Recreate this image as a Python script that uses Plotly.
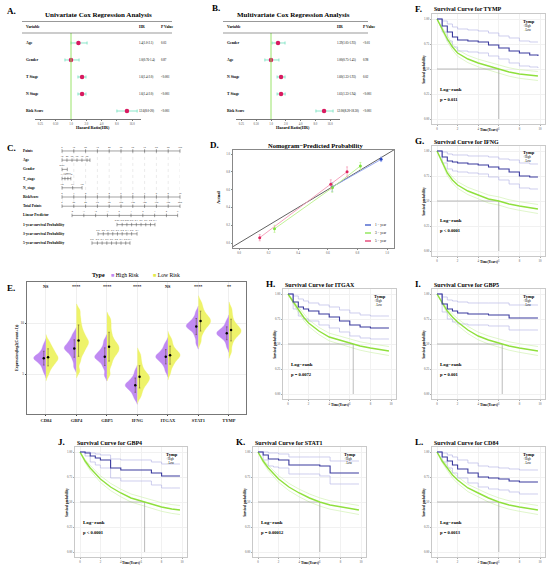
import numpy as np
import plotly.graph_objs as go

FONT = "Liberation Serif"
W, H = 550, 572

# ---- A / B forest plots
UNI_VARS = ["Age", "Gender", "T Stage", "N Stage", "Risk Score"]
UNI_HR = [1.4, 1.0, 1.65, 1.65, 12.6]
UNI_LO = [1.0, 0.76, 1.37, 1.37, 8.0]
UNI_HI = [2.07, 1.44, 1.97, 1.97, 20.0]
UNI_HR_TEXT = ["1.4(1.0-2.1)", "1.0(0.76-1.4)", "1.6(1.4-2.0)", "1.6(1.4-2.0)", "12.6(8.0-20)"]
UNI_P = ["0.03", "0.87", "<0.001", "<0.001", "<0.001"]

MULTI_VARS = ["Gender", "Age", "N Stage", "T Stage", "Risk Score"]
MULTI_HR = [1.39, 1.0, 1.6, 1.6, 12.0]
MULTI_LO = [1.05, 0.75, 1.33, 1.33, 8.2]
MULTI_HI = [1.93, 1.45, 1.93, 1.94, 18.3]
MULTI_HR_TEXT = ["1.39(1.05-1.93)", "1.00(0.75-1.45)", "1.60(1.33-1.93)", "1.61(1.33-1.94)", "12.00(8.20-18.30)"]
MULTI_P = ["<0.01", "0.98", "0.02", "<0.001", "<0.001"]

HR_TICKS = [0.25, 0.5, 1, 2, 4, 8, 16]
HR_TICK_TEXT = ["0.25", "0.50", "1.0", "2.0", "4.0", "8.0", "16.0"]

# ---- C nomogram (positions on the 0-100 points scale)
NOMO_ROWS = ["Points", "Age", "Gender", "T_stage", "N_stage", "RiskScore", "Total Points",
             "Linear Predictor", "1-year survival Probability", "3-year survival Probability",
             "5-year survival Probability"]
POINTS_POS = [0, 10, 20, 30, 40, 50, 60, 70, 80, 90, 100]
POINTS_LAB = ["0", "10", "20", "30", "40", "50", "60", "70", "80", "90", "100"]
AGE_POS = [0, 4.2, 8.5, 12.7, 16.9, 21.2, 23.7]
AGE_LAB = ["30", "40", "50", "60", "70", "80", ""]
GENDER_POS = [0, 4.5]
GENDER_LAB = ["Male", "Female"]
TSTAGE_POS = [0, 2.5, 5, 7.5]
TSTAGE_LAB = ["T1", "T2", "T3", "T4"]
NSTAGE_POS = [0, 9, 17]
NSTAGE_LAB = ["N0", "N1", "N2"]
RISK_POS = [0, 10, 20, 30, 40, 50, 60, 70, 80, 90, 100]
RISK_LAB = ["0", "1", "2", "3", "4", "5", "6", "7", "8", "9", "10"]
TOTAL_POS = [0, 10, 20, 30, 40, 50, 60, 70, 80, 90, 100]
TOTAL_LAB = ["0", "20", "40", "60", "80", "100", "120", "140", "160", "180", "200"]
LP_POS = [8.5, 18.5, 28.5, 38.5, 48.5, 58.5, 68.5, 78.5, 88.5, 98]
LP_LAB = ["-4", "-3", "-2", "-1", "0", "1", "2", "3", "4", "5"]
SURV1_POS = [46.6, 51, 55, 59, 63, 67, 71, 75, 78.8]
SURV1_LAB = ["0.95", "0.9", "0.85", "0.8", "0.7", "0.6", "0.5", "0.4", "0.3"]
SURV3_POS = [30.5, 35, 39, 43, 47, 51, 55, 59, 63.6]
SURV3_LAB = ["0.9", "0.8", "0.7", "0.6", "0.5", "0.4", "0.3", "0.2", "0.1"]
SURV5_POS = [25.4, 30, 34, 38, 42, 46, 50, 54, 57.6]
SURV5_LAB = ["0.9", "0.8", "0.7", "0.6", "0.5", "0.4", "0.3", "0.2", "0.1"]

# ---- D calibration
CAL_1Y_X = [0.63, 0.96]
CAL_1Y_Y = [0.63, 0.94]
CAL_1Y_ERR = [0.05, 0.025]
CAL_3Y_X = [0.24, 0.63, 0.82]
CAL_3Y_Y = [0.16, 0.62, 0.865]
CAL_3Y_ERR = [0.04, 0.05, 0.04]
CAL_5Y_X = [0.14, 0.62, 0.73]
CAL_5Y_Y = [0.06, 0.66, 0.80]
CAL_5Y_ERR = [0.035, 0.05, 0.055]

# ---- E split violins (representative expression values)
GENES = ["CD84", "GBP4", "GBP5", "IFNG", "ITGAX", "STAT1", "TYMP"]
SIG = ["NS", "****", "****", "****", "NS", "****", "**"]
CD84_HIGH = [5.2, 5.6, 5.9, 6.1, 6.3, 6.4, 6.5, 6.6, 6.6, 6.7, 6.8, 7.0, 7.2, 7.5, 7.9]
CD84_LOW = [5.0, 5.5, 5.8, 6.0, 6.2, 6.4, 6.5, 6.6, 6.7, 6.9, 7.1, 7.3, 7.5, 7.8, 8.2]
GBP4_HIGH = [5.7, 6.3, 6.7, 7.0, 7.2, 7.4, 7.5, 7.6, 7.7, 7.9, 8.1, 8.3, 8.6, 9.0]
GBP4_LOW = [5.3, 6.2, 6.8, 7.2, 7.5, 7.8, 8.0, 8.2, 8.4, 8.7, 9.0, 9.4, 9.9, 10.5, 11.2]
GBP5_HIGH = [4.9, 5.6, 6.0, 6.3, 6.5, 6.6, 6.7, 6.8, 7.0, 7.2, 7.4, 7.8, 8.3]
GBP5_LOW = [5.0, 5.8, 6.3, 6.7, 7.0, 7.2, 7.4, 7.6, 7.8, 8.0, 8.3, 8.7, 9.2, 9.8, 10.4]
IFNG_HIGH = [2.6, 3.0, 3.3, 3.5, 3.7, 3.8, 3.9, 4.0, 4.1, 4.3, 4.5, 4.8, 5.3]
IFNG_LOW = [2.8, 3.3, 3.7, 4.0, 4.2, 4.4, 4.6, 4.7, 4.9, 5.1, 5.4, 5.8, 6.3, 6.9]
ITGAX_HIGH = [5.3, 5.8, 6.1, 6.3, 6.5, 6.6, 6.7, 6.8, 6.9, 7.1, 7.3, 7.6, 8.0]
ITGAX_LOW = [5.1, 5.7, 6.0, 6.3, 6.5, 6.7, 6.8, 6.9, 7.0, 7.2, 7.4, 7.7, 8.1, 8.5]
STAT1_HIGH = [8.0, 8.6, 9.0, 9.3, 9.5, 9.6, 9.7, 9.8, 9.9, 10.1, 10.3, 10.6, 11.1]
STAT1_LOW = [8.2, 8.9, 9.3, 9.6, 9.8, 10.0, 10.1, 10.3, 10.4, 10.6, 10.8, 11.1, 11.5, 12.0]
TYMP_HIGH = [7.7, 8.2, 8.5, 8.7, 8.8, 8.9, 9.0, 9.1, 9.2, 9.3, 9.5, 9.8, 10.2]
TYMP_LOW = [7.2, 7.9, 8.4, 8.7, 8.9, 9.1, 9.2, 9.3, 9.5, 9.7, 9.9, 10.3, 10.8, 11.4]
EXPR_HIGH = [CD84_HIGH, GBP4_HIGH, GBP5_HIGH, IFNG_HIGH, ITGAX_HIGH, STAT1_HIGH, TYMP_HIGH]
EXPR_LOW = [CD84_LOW, GBP4_LOW, GBP5_LOW, IFNG_LOW, ITGAX_LOW, STAT1_LOW, TYMP_LOW]

# ---- F-L Kaplan-Meier curves
TIME = [0, 0.5, 1, 1.5, 2, 3, 4, 5, 6, 7, 8, 9, 9.8]
LOW_BAND = [0, 0.015, 0.025, 0.03, 0.033, 0.036, 0.038, 0.04, 0.041, 0.042, 0.043, 0.044, 0.045]

TYMP_S_HIGH = [1.0, 0.93, 0.87, 0.82, 0.79, 0.78, 0.77, 0.74, 0.71, 0.68, 0.66, 0.64, 0.63]
TYMP_S_HIGH_UP = [1.0, 0.98, 0.95, 0.92, 0.90, 0.89, 0.88, 0.86, 0.83, 0.81, 0.78, 0.77, 0.77]
TYMP_S_HIGH_LO = [1.0, 0.87, 0.78, 0.72, 0.68, 0.67, 0.66, 0.63, 0.60, 0.56, 0.53, 0.52, 0.51]
TYMP_S_LOW = [1.0, 0.90, 0.80, 0.72, 0.66, 0.60, 0.56, 0.53, 0.50, 0.47, 0.45, 0.44, 0.43]

IFNG_S_HIGH = [1.0, 0.94, 0.90, 0.89, 0.88, 0.87, 0.86, 0.84, 0.82, 0.79, 0.75, 0.74, 0.74]
IFNG_S_HIGH_UP = [1.0, 0.99, 0.97, 0.96, 0.96, 0.95, 0.95, 0.94, 0.92, 0.91, 0.88, 0.87, 0.87]
IFNG_S_HIGH_LO = [1.0, 0.88, 0.82, 0.80, 0.79, 0.78, 0.77, 0.74, 0.71, 0.67, 0.63, 0.62, 0.62]
IFNG_S_LOW = [1.0, 0.89, 0.78, 0.71, 0.66, 0.60, 0.56, 0.52, 0.50, 0.47, 0.45, 0.43, 0.42]

ITGAX_S_HIGH = [1.0, 0.92, 0.87, 0.85, 0.83, 0.80, 0.77, 0.73, 0.69, 0.67, 0.66, 0.66, 0.66]
ITGAX_S_HIGH_UP = [1.0, 0.98, 0.95, 0.93, 0.91, 0.89, 0.87, 0.84, 0.81, 0.79, 0.78, 0.78, 0.78]
ITGAX_S_HIGH_LO = [1.0, 0.85, 0.78, 0.75, 0.73, 0.69, 0.66, 0.62, 0.58, 0.56, 0.55, 0.55, 0.55]
ITGAX_S_LOW = [1.0, 0.92, 0.84, 0.77, 0.71, 0.63, 0.57, 0.54, 0.51, 0.48, 0.46, 0.44, 0.43]

GBP5_S_HIGH = [1.0, 0.90, 0.85, 0.83, 0.81, 0.80, 0.80, 0.79, 0.79, 0.76, 0.76, 0.76, 0.76]
GBP5_S_HIGH_UP = [1.0, 0.97, 0.94, 0.93, 0.92, 0.91, 0.91, 0.91, 0.91, 0.89, 0.89, 0.89, 0.89]
GBP5_S_HIGH_LO = [1.0, 0.82, 0.75, 0.72, 0.70, 0.69, 0.69, 0.68, 0.68, 0.64, 0.64, 0.64, 0.64]
GBP5_S_LOW = [1.0, 0.91, 0.83, 0.77, 0.72, 0.64, 0.58, 0.54, 0.51, 0.48, 0.46, 0.44, 0.43]

GBP4_S_HIGH = [1.0, 0.99, 0.96, 0.94, 0.92, 0.84, 0.82, 0.82, 0.82, 0.79, 0.76, 0.76, 0.76]
GBP4_S_HIGH_UP = [1.0, 1.0, 0.99, 0.98, 0.97, 0.93, 0.92, 0.92, 0.92, 0.90, 0.88, 0.88, 0.88]
GBP4_S_HIGH_LO = [1.0, 0.96, 0.90, 0.87, 0.84, 0.74, 0.71, 0.71, 0.71, 0.67, 0.64, 0.64, 0.64]
GBP4_S_LOW = [1.0, 0.91, 0.84, 0.78, 0.73, 0.65, 0.59, 0.54, 0.51, 0.48, 0.45, 0.43, 0.42]

STAT1_S_HIGH = [1.0, 0.97, 0.93, 0.93, 0.92, 0.87, 0.87, 0.87, 0.86, 0.79, 0.79, 0.79, 0.79]
STAT1_S_HIGH_UP = [1.0, 1.0, 0.99, 0.99, 0.98, 0.95, 0.95, 0.95, 0.95, 0.91, 0.91, 0.91, 0.91]
STAT1_S_HIGH_LO = [1.0, 0.92, 0.86, 0.85, 0.84, 0.78, 0.78, 0.78, 0.76, 0.68, 0.68, 0.68, 0.68]
STAT1_S_LOW = [1.0, 0.91, 0.84, 0.78, 0.73, 0.65, 0.59, 0.54, 0.50, 0.47, 0.45, 0.43, 0.42]

CD84_S_HIGH = [1.0, 0.95, 0.91, 0.87, 0.83, 0.79, 0.75, 0.74, 0.73, 0.71, 0.70, 0.70, 0.70]
CD84_S_HIGH_UP = [1.0, 0.99, 0.97, 0.95, 0.92, 0.89, 0.86, 0.85, 0.84, 0.83, 0.82, 0.82, 0.82]
CD84_S_HIGH_LO = [1.0, 0.90, 0.84, 0.79, 0.74, 0.69, 0.65, 0.63, 0.62, 0.60, 0.58, 0.58, 0.58]
CD84_S_LOW = [1.0, 0.91, 0.84, 0.77, 0.72, 0.64, 0.59, 0.54, 0.50, 0.47, 0.45, 0.43, 0.42]

PVALS = {"TYMP": "p = 0.011", "IFNG": "p < 0.0001", "ITGAX": "p = 0.0072", "GBP5": "p = 0.001",
         "GBP4": "p < 0.0001", "STAT1": "p = 0.00012", "CD84": "p = 0.0013"}


def px(x):
    return x / W


def py(y):
    return 1 - y / H


def names(n):
    s = "" if n == 1 else str(n)
    return "xaxis" + s, "yaxis" + s, "x" + s, "y" + s


fig = go.Figure()
annotations = []
shapes = []
axes = {}


def ann(text, x, y, size, xref="paper", yref="paper", xanchor="left", yanchor="middle",
        color="black", angle=0):
    annotations.append(dict(text=text, x=x, y=y, xref=xref, yref=yref, xanchor=xanchor,
                            yanchor=yanchor, showarrow=False, textangle=angle,
                            font=dict(family=FONT, size=size, color=color)))


def set_axes(n, xpx, ypx, xrange, yrange, xkw=None, ykw=None):
    xa, ya, xr, yr = names(n)
    base = dict(showgrid=False, zeroline=False, showticklabels=False, ticks="",
                tickfont=dict(family=FONT, size=3, color="#555"))
    xd = dict(base, domain=[px(xpx[0]), px(xpx[1])], range=xrange, anchor=yr)
    yd = dict(base, domain=[py(ypx[1]), py(ypx[0])], range=yrange, anchor=xr)
    xd.update(xkw or {})
    yd.update(ykw or {})
    axes[xa] = xd
    axes[ya] = yd
    return xr, yr


# ================= A and B: forest plots
def forest(n, letter, title, vars_, hr, lo, hi, hr_text, pv, xpx, one_px, per_dbl, lab_x, hr_x, p_x,
           rule, title_x, letter_pos):
    left = (xpx[0] - one_px) / per_dbl * np.log10(2)
    right = (xpx[1] - one_px) / per_dbl * np.log10(2)
    nrow = len(vars_)
    rows = [nrow - i for i in range(nrow)]
    xr, yr = set_axes(n, xpx, (36, 119), [left, right], [0.53, nrow + 0.41],
                      xkw=dict(type="log", showline=True, linecolor="#777", linewidth=0.6,
                               ticks="outside", ticklen=1.5, tickcolor="#777",
                               tickvals=HR_TICKS, ticktext=HR_TICK_TEXT, showticklabels=True))
    shapes.append(dict(type="line", xref=xr, yref="paper", x0=1, x1=1, y0=py(119), y1=py(33),
                       line=dict(color="#8ee05a", width=0.9)))
    fig.add_trace(go.Scatter(x=hr, y=rows, xaxis=xr, yaxis=yr, mode="markers",
                             marker=dict(color="#d81b60", size=4.5),
                             error_x=dict(type="data", symmetric=False,
                                          array=[h - m for h, m in zip(hi, hr)],
                                          arrayminus=[m - l for m, l in zip(hr, lo)],
                                          color="#7fe3c4", thickness=0.9, width=1.5)))
    for r, v, t, p in zip(rows, vars_, hr_text, pv):
        ann("<b>%s</b>" % v, px(lab_x), r, 3.8, yref=yr)
        ann(t, px(hr_x), r, 3, yref=yr)
        ann(p, px(p_x), r, 3, yref=yr)
    ann("<b>Variable</b>", px(lab_x), py(27), 3.8)
    ann("<b>HR</b>", px(hr_x), py(27), 3.8)
    ann("<b>P Value</b>", px(p_x), py(27), 3.8)
    for yy in (21.5, 33):
        shapes.append(dict(type="line", xref="paper", yref="paper", x0=px(rule[0]), x1=px(rule[1]),
                           y0=py(yy), y1=py(yy), line=dict(color="#333", width=0.5)))
    ann("<b>%s</b>" % title, px(title_x), py(15), 7, xanchor="center")
    ann("<b>%s</b>" % letter, px(letter_pos[0]), py(letter_pos[1]), 9)
    ann("<b>Hazard Ratio(HR)</b>", px((xpx[0] + xpx[1]) / 2 + 5), py(127), 4.2, xanchor="center")


forest(1, "A.", "Univariate Cox Regression Analysis", UNI_VARS, UNI_HR, UNI_LO, UNI_HI,
       UNI_HR_TEXT, UNI_P, (35, 141), 71, 15.3, 24, 137, 159, (22, 172), 98, (5, 11))
forest(2, "B.", "Multivariate Cox Regression Analysis", MULTI_VARS, MULTI_HR, MULTI_LO, MULTI_HI,
       MULTI_HR_TEXT, MULTI_P, (236, 340), 271, 14.8, 225, 335, 361, (223, 368), 293, (210, 8))

# ================= C: nomogram
xr, yr = set_axes(3, (62, 180), (147, 247), [0, 100], [10.43, -0.43])
scales = [(POINTS_POS, POINTS_LAB), (AGE_POS, AGE_LAB), (GENDER_POS, GENDER_LAB),
          (TSTAGE_POS, TSTAGE_LAB), (NSTAGE_POS, NSTAGE_LAB), (RISK_POS, RISK_LAB),
          (TOTAL_POS, TOTAL_LAB), (LP_POS, LP_LAB), (SURV1_POS, SURV1_LAB),
          (SURV3_POS, SURV3_LAB), (SURV5_POS, SURV5_LAB)]
gx, gy = [], []
for p in POINTS_POS:
    gx += [p, p, None]
    gy += [0, 6, None]
fig.add_trace(go.Scatter(x=gx, y=gy, xaxis=xr, yaxis=yr, mode="lines",
                         line=dict(color="#d6d6d6", width=0.5, dash="dot")))
for i, (name, (pos, lab)) in enumerate(zip(NOMO_ROWS, scales)):
    fig.add_trace(go.Scatter(x=pos, y=[i] * len(pos), xaxis=xr, yaxis=yr,
                             mode="lines+markers+text", text=lab,
                             textposition="top center" if i != 2 else ["top center", "bottom center"],
                             textfont=dict(family=FONT, size=2.6, color="#333"),
                             line=dict(color="#444", width=0.5),
                             marker=dict(symbol="line-ns", size=2.5,
                                         line=dict(color="#444", width=0.5)),
                             cliponaxis=False))
    ann("<b>%s</b>" % name, px(21), i, 3.6, yref=yr)
ann("<b>C.</b>", px(5), py(148), 9)

# ================= D: calibration
d_x0, d_x1 = -0.0405, 1.047
xr, yr = set_axes(4, (233, 394), (150, 248), [d_x0, d_x1], [-0.056, 1.045],
                  xkw=dict(showline=True, mirror=True, linecolor="#888", linewidth=0.6,
                           ticks="outside", ticklen=1.5, tickcolor="#888", showticklabels=True,
                           tickvals=[0, 0.2, 0.4, 0.6, 0.8, 1.0], tickformat=".1f"),
                  ykw=dict(showline=True, mirror=True, linecolor="#888", linewidth=0.6,
                           ticks="outside", ticklen=1.5, tickcolor="#888", showticklabels=True,
                           tickvals=[0, 0.2, 0.4, 0.6, 0.8, 1.0], tickformat=".1f"))
fig.add_trace(go.Scatter(x=[d_x0, d_x1], y=[d_x0, d_x1], xaxis=xr, yaxis=yr, mode="lines",
                         line=dict(color="#3a3a3a", width=0.8)))
cal = [(CAL_1Y_X, CAL_1Y_Y, CAL_1Y_ERR, "#2746c4", "#8ea0f0", "1 − year"),
       (CAL_3Y_X, CAL_3Y_Y, CAL_3Y_ERR, "#7be23a", "#b9f08a", "3 − year"),
       (CAL_5Y_X, CAL_5Y_Y, CAL_5Y_ERR, "#e0245e", "#f39ab5", "5 − year")]
for k, (cx, cy, ce, col, light, lab) in enumerate(cal):
    fig.add_trace(go.Scatter(x=cx, y=cy, xaxis=xr, yaxis=yr, mode="lines+markers",
                             line=dict(color=light, width=0.9),
                             marker=dict(color=col, size=3),
                             error_y=dict(type="data", array=ce, color=light, thickness=0.7, width=1)))
    ly = 225 + k * 8
    shapes.append(dict(type="line", xref="paper", yref="paper", x0=px(365), x1=px(371),
                       y0=py(ly), y1=py(ly), line=dict(color=col, width=1.2)))
    ann(lab, px(373), py(ly), 3.4)
ann("<b>Nomogram−Predicted Probability</b>", px(315), py(146), 6.5, xanchor="center")
ann("<b>Actual</b>", px(218), py(198), 4.5, xanchor="center", angle=-90)
ann("<b>D.</b>", px(208), py(145), 9)

# ================= E: split violins
xr, yr = set_axes(5, (27, 246), (282, 414), [-0.62, 6.56], [1.08, 14.02],
                  xkw=dict(showline=True, mirror=True, linecolor="#777", linewidth=0.6,
                           showgrid=True, gridcolor="#efefef", gridwidth=0.5,
                           tickvals=list(range(len(GENES))), ticktext=["<b>%s</b>" % g for g in GENES],
                           showticklabels=True, ticks="outside", ticklen=1.5,
                           tickfont=dict(family=FONT, size=4.5, color="#222")),
                  ykw=dict(showline=True, mirror=True, linecolor="#777", linewidth=0.6,
                           showgrid=True, gridcolor="#efefef", gridwidth=0.5,
                           tickvals=[5, 10], showticklabels=True, ticks="outside", ticklen=1.5,
                           tickfont=dict(family=FONT, size=3.5, color="#333")))
for i, (gh, gl) in enumerate(zip(EXPR_HIGH, EXPR_LOW)):
    fig.add_trace(go.Violin(x=[i] * len(gh), y=gh, xaxis=xr, yaxis=yr, side="negative",
                            width=0.8, scalemode="width", points=False, bandwidth=0.28,
                            fillcolor="#c08af2", line=dict(color="#c08af2", width=0.3),
                            hoverinfo="skip"))
    fig.add_trace(go.Violin(x=[i] * len(gl), y=gl, xaxis=xr, yaxis=yr, side="positive",
                            width=0.8, scalemode="width", points=False, bandwidth=0.33,
                            fillcolor="#eef36a", line=dict(color="#eef36a", width=0.3),
                            hoverinfo="skip"))
    for off, vals in ((-0.07, gh), (0.07, gl)):
        fig.add_trace(go.Scatter(x=[i + off], y=[np.mean(vals)], xaxis=xr, yaxis=yr, mode="markers",
                                 marker=dict(color="black", size=2.5),
                                 error_y=dict(type="data", array=[np.std(vals)], color="#5a4a2a",
                                              thickness=0.5, width=0.8)))
    ann("<b>%s</b>" % SIG[i], i, 13.6, 4.2, xref=xr, yref=yr, xanchor="center")
ann("<b>Type</b>", px(90), py(275), 6)
ann("<span style='color:#c08af2'>■</span> High Risk", px(109), py(275), 5.6)
ann("<span style='color:#e3ea4a'>■</span> Low Risk", px(151), py(275), 5.6)
ann("<b>Expression(log2(Count+1))</b>", px(16), py(348), 4, xanchor="center", angle=-90)
ann("<b>E.</b>", px(5), py(288), 9)


# ================= F-L: survival curves
def survival(n, gene, letter, x0px, xscale, y1px, yscale, high, high_up, high_lo, low):
    # x0px: pixel of t=0, y1px: pixel of S=1
    xpx = (x0px - 0.5 * xscale, x0px + 10.5 * xscale)
    ypx = (y1px - 0.05 * yscale, y1px + 1.05 * yscale)
    frame = dict(showline=True, mirror=True, linecolor="#c9c9c9", linewidth=0.7,
                 showgrid=True, gridcolor="#f1f1f1", gridwidth=0.5, showticklabels=True,
                 ticks="outside", ticklen=1.2, tickcolor="#aaa")
    xr, yr = set_axes(n, xpx, ypx, [-0.5, 10.5], [-0.05, 1.05],
                      xkw=dict(frame, tickvals=[0, 2, 4, 6, 8, 10]),
                      ykw=dict(frame, tickvals=[0, 0.25, 0.5, 0.75, 1.0], tickformat=".2f"))
    low_up = [v + b for v, b in zip(low, LOW_BAND)]
    low_lo = [v - b for v, b in zip(low, LOW_BAND)]
    for ys in (low_up, low_lo):
        fig.add_trace(go.Scatter(x=TIME, y=ys, xaxis=xr, yaxis=yr, mode="lines",
                                 line=dict(color="#d3f2b4", width=0.7)))
    for ys in (high_up, high_lo):
        fig.add_trace(go.Scatter(x=TIME, y=ys, xaxis=xr, yaxis=yr, mode="lines",
                                 line=dict(color="#b9b9e6", width=0.7, shape="hv")))
    t_med = float(np.interp(0.5, low[::-1], TIME[::-1]))
    fig.add_trace(go.Scatter(x=[0, t_med, t_med], y=[0.5, 0.5, 0], xaxis=xr, yaxis=yr,
                             mode="lines", line=dict(color="#777", width=0.5)))
    fig.add_trace(go.Scatter(x=TIME, y=low, xaxis=xr, yaxis=yr, mode="lines",
                             line=dict(color="#8fe03c", width=1.4)))
    fig.add_trace(go.Scatter(x=TIME, y=high, xaxis=xr, yaxis=yr, mode="lines",
                             line=dict(color="#3a3a9e", width=1.1, shape="hv")))
    ann("<b>%s</b>" % letter, px(xpx[0] - 19), py(ypx[0] - 5), 9)
    ann("<b>Survival Curve for %s</b>" % gene, px(xpx[0]), py(ypx[0] - 4.5), 6)
    ann("<b>Tymp</b>", 8.2, 0.98, 4.5, xref=xr, yref=yr)
    ann("<span style='color:#3a3a9e'>+</span>High", 8.2, 0.935, 3, xref=xr, yref=yr)
    ann("<span style='color:#8fe03c'>–</span>Low", 8.2, 0.895, 3, xref=xr, yref=yr)
    ann("<b>Log−rank</b>", 0.1, 0.30, 5, xref=xr, yref=yr)
    ann("<b>%s</b>" % PVALS[gene], 0.1, 0.20, 4.6, xref=xr, yref=yr)
    ann("<b>Survival probability</b>", px(xpx[0] - 8), py((ypx[0] + ypx[1]) / 2), 3.3,
        xanchor="center", angle=-90)
    ann("<b>Time(Years)</b>", px((xpx[0] + xpx[1]) / 2), py(ypx[1] + 6), 3.4, xanchor="center")


survival(6, "TYMP", "F.", 437, 10.3, 19, 100, TYMP_S_HIGH, TYMP_S_HIGH_UP, TYMP_S_HIGH_LO, TYMP_S_LOW)
survival(7, "IFNG", "G.", 437, 10.3, 151, 100, IFNG_S_HIGH, IFNG_S_HIGH_UP, IFNG_S_HIGH_LO, IFNG_S_LOW)
survival(8, "ITGAX", "H.", 288, 10.3, 294, 100, ITGAX_S_HIGH, ITGAX_S_HIGH_UP, ITGAX_S_HIGH_LO, ITGAX_S_LOW)
survival(9, "GBP5", "I.", 437, 10.3, 294, 100, GBP5_S_HIGH, GBP5_S_HIGH_UP, GBP5_S_HIGH_LO, GBP5_S_LOW)
survival(10, "GBP4", "J.", 80, 10.2, 452, 100, GBP4_S_HIGH, GBP4_S_HIGH_UP, GBP4_S_HIGH_LO, GBP4_S_LOW)
survival(11, "STAT1", "K.", 258, 10.3, 452, 100, STAT1_S_HIGH, STAT1_S_HIGH_UP, STAT1_S_HIGH_LO, STAT1_S_LOW)
survival(12, "CD84", "L.", 437, 10.3, 452, 100, CD84_S_HIGH, CD84_S_HIGH_UP, CD84_S_HIGH_LO, CD84_S_LOW)

fig.update_layout(width=W, height=H, margin=dict(l=0, r=0, t=0, b=0),
                  paper_bgcolor="white", plot_bgcolor="white", showlegend=False,
                  violinmode="overlay", violingap=0, violingroupgap=0,
                  font=dict(family=FONT, size=4, color="black"),
                  annotations=annotations, shapes=shapes, **axes)
# the page body has a default 8px margin; drop it so the figure sits at the window corner
fig.write_html("out.html", config={"displayModeBar": False},
               post_script="document.body.style.margin = '0px';")
